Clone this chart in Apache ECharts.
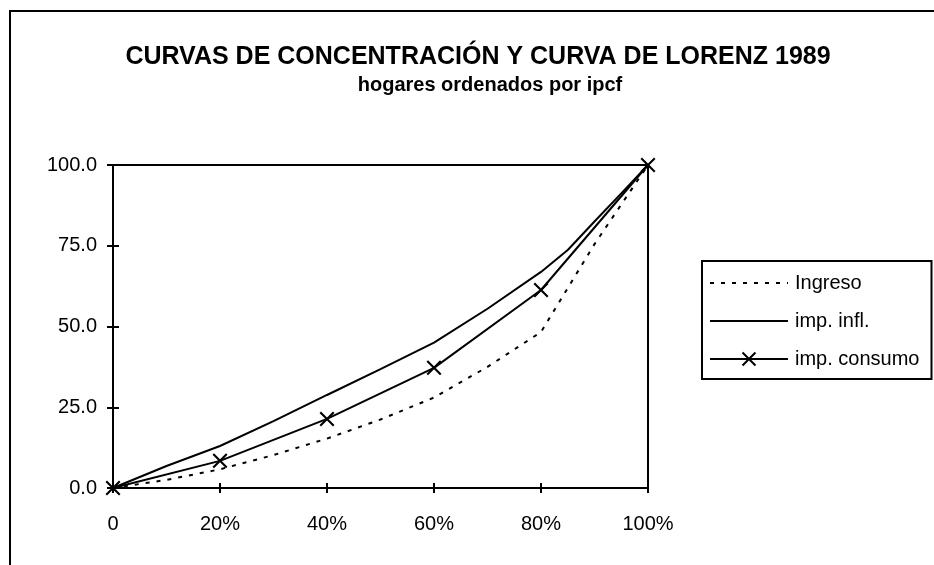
<!DOCTYPE html>
<html>
<head>
<meta charset="utf-8">
<script src="https://cdn.jsdelivr.net/npm/echarts@6/dist/echarts.min.js"></script>
<style>html,body{margin:0;padding:0;background:#fff;}#c{width:934px;height:565px;}</style>
</head>
<body>
<div id="c"></div>
<script>
var titleText = 'CURVAS DE CONCENTRACIÓN Y CURVA DE LORENZ 1989';
var subtitleText = 'hogares ordenados por ipcf';
var seriesNames = ['Ingreso', 'imp. infl.', 'imp. consumo'];

var ingresoX = [0, 10, 20, 30, 40, 50, 60, 70, 80, 90, 100];
var ingresoY = [0, 2.5, 5.8, 10.2, 15.3, 21.2, 28.0, 37.5, 48.3, 75.5, 100];

var inflX = [0, 10, 20, 30, 40, 50, 60, 70, 80, 85, 90, 95, 100];
var inflY = [0, 6.8, 13.0, 20.7, 28.8, 36.8, 45.0, 55.5, 66.9, 73.7, 82.5, 91.2, 100];

var consumoX = [0, 20, 40, 60, 80, 100];
var consumoY = [0, 8.4, 21.4, 37.2, 61.3, 100];

var xTicks = [0, 20, 40, 60, 80, 100];
var yTicks = [0, 25, 50, 75, 100];

function pairs(xs, ys) { return xs.map(function (x, i) { return [x, ys[i]]; }); }

var FONT = 'Liberation Sans, Arial, sans-serif';
var xMark = 'path://M0,1 L1,0 L5,4 L9,0 L10,1 L6,5 L10,9 L9,10 L5,6 L1,10 L0,9 L4,5 Z';
var hidden = { color: 'rgba(0,0,0,0)', borderColor: 'rgba(0,0,0,0)', borderWidth: 0 };

var chart = echarts.init(document.getElementById('c'));
var axisCommonX = {
  type: 'value', min: xTicks[0], max: xTicks[xTicks.length - 1], interval: 20,
  splitLine: { show: false }
};
var axisCommonY = {
  type: 'value', min: yTicks[0], max: yTicks[yTicks.length - 1], interval: 25,
  splitLine: { show: false }
};
chart.setOption({
  backgroundColor: '#fff',
  animation: false,
  title: [
    { text: titleText, left: 478, top: 45, padding: 0, textAlign: 'center',
      textStyle: { fontFamily: FONT, fontSize: 25, fontWeight: 'bold', color: '#000' } },
    { text: subtitleText, left: 490, top: 75, padding: 0, textAlign: 'center',
      textStyle: { fontFamily: FONT, fontSize: 20, fontWeight: 'bold', color: '#000' } }
  ],
  graphic: [
    { type: 'polyline', shape: { points: [[10, 570], [10, 11], [940, 11]] },
      style: { stroke: '#000', lineWidth: 2, fill: null }, silent: true }
  ],
  legend: {
    orient: 'vertical', left: 702, top: 261,
    padding: [12, 12, 10, 7], itemGap: 18, itemWidth: 78, itemHeight: 18,
    borderColor: '#000', borderWidth: 2,
    textStyle: { fontFamily: FONT, fontSize: 20, color: '#000', padding: [0, 0, 0, 2] },
    data: seriesNames
  },
  grid: { left: 113, right: 286, top: 165, bottom: 77, show: true, borderColor: '#000', borderWidth: 2 },
  xAxis: [
    Object.assign({}, axisCommonX, {
      axisLine: { show: true, lineStyle: { color: '#000', width: 2 } },
      axisTick: { show: true, length: 5, lineStyle: { color: '#000', width: 2 } },
      axisLabel: { margin: 26, fontFamily: FONT, fontSize: 20, color: '#000',
        formatter: function (v) { return v === 0 ? '0' : v + '%'; } }
    }),
    Object.assign({}, axisCommonX, {
      position: 'bottom',
      axisLine: { show: false },
      axisTick: { show: true, inside: true, length: 5, lineStyle: { color: '#000', width: 2 } },
      axisLabel: { show: false }
    })
  ],
  yAxis: [
    Object.assign({}, axisCommonY, {
      axisLine: { show: true, lineStyle: { color: '#000', width: 2 } },
      axisTick: { show: true, length: 6, lineStyle: { color: '#000', width: 2 } },
      axisLabel: { margin: 16, fontFamily: FONT, fontSize: 20, color: '#000',
        formatter: function (v) { return v.toFixed(1); } }
    }),
    Object.assign({}, axisCommonY, {
      position: 'left',
      axisLine: { show: false },
      axisTick: { show: true, inside: true, length: 6, lineStyle: { color: '#000', width: 2 } },
      axisLabel: { show: false }
    })
  ],
  series: [
    { name: seriesNames[0], type: 'line', data: pairs(ingresoX, ingresoY),
      symbol: 'circle', symbolSize: 1, showSymbol: false,
      lineStyle: { color: '#000', width: 2, type: [4, 7] },
      itemStyle: hidden },
    { name: seriesNames[1], type: 'line', data: pairs(inflX, inflY),
      symbol: 'circle', symbolSize: 1, showSymbol: false,
      lineStyle: { color: '#000', width: 2 },
      itemStyle: hidden },
    { name: seriesNames[2], type: 'line', data: pairs(consumoX, consumoY),
      symbol: xMark, symbolSize: 15, showAllSymbol: true,
      lineStyle: { color: '#000', width: 2 },
      itemStyle: { color: '#000' } }
  ]
});
</script>
</body>
</html>
